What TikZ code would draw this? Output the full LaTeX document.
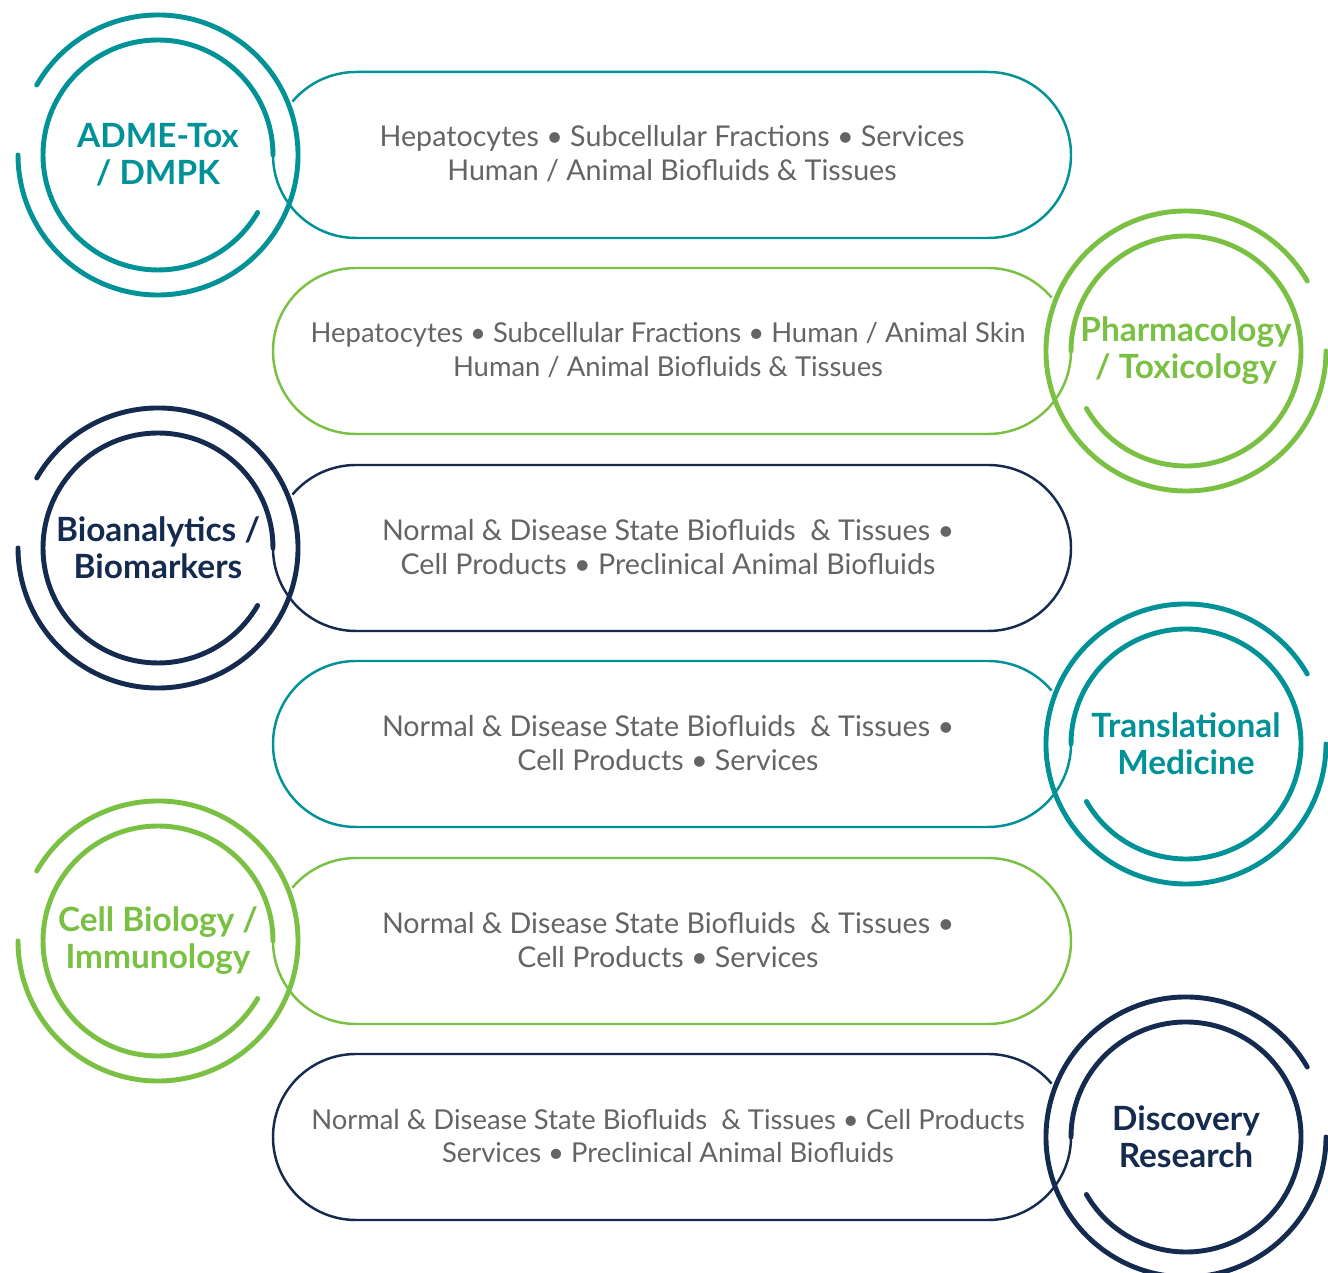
\documentclass[tikz,border=0pt]{standalone}
\usepackage{fontspec}
\setmainfont{Lato}
\definecolor{ringteal}{RGB}{0, 146, 150}
\definecolor{ringgreen}{RGB}{122, 192, 67}
\definecolor{ringnavy}{RGB}{20, 42, 78}
\definecolor{descgray}{RGB}{100, 100, 100}
\usetikzlibrary{positioning}

\tikzset{
  ring/.style={line width=2.8pt, line cap=round},
  pill/.style={line width=1.4pt},
  title/.style={align=center, inner sep=0pt, font=\fontsize{19}{21}\selectfont\bfseries},
  desc/.style={align=center, inner sep=0pt, text=descgray, font=\fontsize{16.3}{19.3}\selectfont},
  desc small/.style={desc, font=\fontsize{15.6}{19.3}\selectfont}
}

\begin{document}
\begin{tikzpicture}[x=0.02cm, y=0.02cm]
  \useasboundingbox (0,0) rectangle (1328,1273);

  % ADME-Tox / DMPK
  \node[title, text=ringteal] (adme) at (158,1118) {ADME-Tox\\/ DMPK};
  \draw[ring, ringteal] (adme.center) ++(150:140) arc[start angle=150, end angle=-180, radius=140];
  \draw[ring, ringteal] (adme.center) ++(0:115) arc[start angle=0, end angle=330, radius=115];
  \draw[pill, ringteal] (356,1118) ++(140:83) arc[start angle=140, end angle=90, radius=83]
    -- (988,1201) arc[start angle=90, end angle=-90, radius=83]
    -- (356,1035) arc[start angle=270, end angle=180, radius=83];
  \node[desc] (adme-txt) at (672,1119) {Hepatocytes • Subcellular Fractions • Services\\Human / Animal Biofluids \& Tissues};

  % Pharmacology / Toxicology
  \node[title, text=ringgreen] (pharm) at (1186,922) {Pharmacology\\/ Toxicology};
  \draw[ring, ringgreen] (pharm.center) ++(30:140) arc[start angle=30, end angle=360, radius=140];
  \draw[ring, ringgreen] (pharm.center) ++(210:115) arc[start angle=210, end angle=540, radius=115];
  \draw[pill, ringgreen] (988,922) ++(40:83) arc[start angle=40, end angle=90, radius=83]
    -- (356,1005) arc[start angle=90, end angle=270, radius=83]
    -- (988,839) arc[start angle=-90, end angle=0, radius=83];
  \node[desc small] (pharm-txt) at (668,923) {Hepatocytes • Subcellular Fractions • Human / Animal Skin\\Human / Animal Biofluids \& Tissues};

  % Bioanalytics / Biomarkers
  \node[title, text=ringnavy] (bioan) at (158,725) {Bioanalytics /\\Biomarkers};
  \draw[ring, ringnavy] (bioan.center) ++(150:140) arc[start angle=150, end angle=-180, radius=140];
  \draw[ring, ringnavy] (bioan.center) ++(0:115) arc[start angle=0, end angle=330, radius=115];
  \draw[pill, ringnavy] (356,725) ++(140:83) arc[start angle=140, end angle=90, radius=83]
    -- (988,808) arc[start angle=90, end angle=-90, radius=83]
    -- (356,642) arc[start angle=270, end angle=180, radius=83];
  \node[desc] (bioan-txt) at (668,726) {Normal \& Disease State Biofluids\ \ \& Tissues •\\Cell Products • Preclinical Animal Biofluids};

  % Translational Medicine
  \node[title, text=ringteal] (transl) at (1186,529) {Translational\\Medicine};
  \draw[ring, ringteal] (transl.center) ++(30:140) arc[start angle=30, end angle=360, radius=140];
  \draw[ring, ringteal] (transl.center) ++(210:115) arc[start angle=210, end angle=540, radius=115];
  \draw[pill, ringteal] (988,529) ++(40:83) arc[start angle=40, end angle=90, radius=83]
    -- (356,612) arc[start angle=90, end angle=270, radius=83]
    -- (988,446) arc[start angle=-90, end angle=0, radius=83];
  \node[desc] (transl-txt) at (668,530) {Normal \& Disease State Biofluids\ \ \& Tissues •\\Cell Products • Services};

  % Cell Biology / Immunology
  \node[title, text=ringgreen] (cellbio) at (158,332) {Cell Biology /\\Immunology};
  \draw[ring, ringgreen] (cellbio.center) ++(150:140) arc[start angle=150, end angle=-180, radius=140];
  \draw[ring, ringgreen] (cellbio.center) ++(0:115) arc[start angle=0, end angle=330, radius=115];
  \draw[pill, ringgreen] (356,332) ++(140:83) arc[start angle=140, end angle=90, radius=83]
    -- (988,415) arc[start angle=90, end angle=-90, radius=83]
    -- (356,249) arc[start angle=270, end angle=180, radius=83];
  \node[desc] (cellbio-txt) at (668,333) {Normal \& Disease State Biofluids\ \ \& Tissues •\\Cell Products • Services};

  % Discovery Research
  \node[title, text=ringnavy] (discov) at (1186,136) {Discovery\\Research};
  \draw[ring, ringnavy] (discov.center) ++(30:140) arc[start angle=30, end angle=360, radius=140];
  \draw[ring, ringnavy] (discov.center) ++(210:115) arc[start angle=210, end angle=540, radius=115];
  \draw[pill, ringnavy] (988,136) ++(40:83) arc[start angle=40, end angle=90, radius=83]
    -- (356,219) arc[start angle=90, end angle=270, radius=83]
    -- (988,53) arc[start angle=-90, end angle=0, radius=83];
  \node[desc small] (discov-txt) at (668,137) {Normal \& Disease State Biofluids\ \ \& Tissues • Cell Products\\Services • Preclinical Animal Biofluids};
\end{tikzpicture}
\end{document}
